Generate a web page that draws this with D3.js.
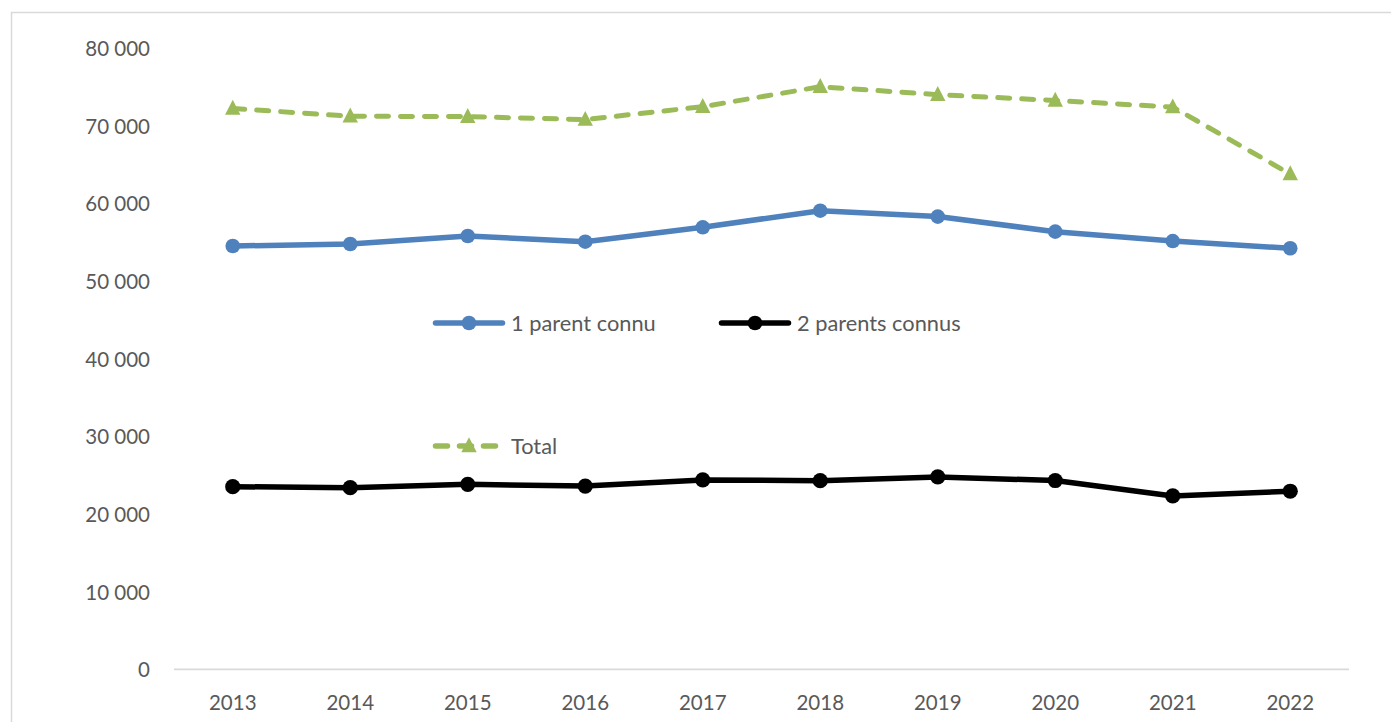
<!DOCTYPE html>
<html>
<head>
<meta charset="utf-8">
<script src="https://cdn.jsdelivr.net/npm/d3@7"></script>
<style>
  html, body { margin: 0; padding: 0; background: #ffffff; overflow: hidden; }
  svg { display: block; }
  text { font-family: Lato, "Open Sans", sans-serif; fill: #595959; }
</style>
</head>
<body>
<svg id="chart" width="1391" height="722"></svg>
<script>
const years = ["2013","2014","2015","2016","2017","2018","2019","2020","2021","2022"];
const oneParent = [54530, 54790, 55820, 55085, 56940, 59080, 58320, 56380, 55170, 54240];
const twoParents = [23525, 23400, 23830, 23610, 24390, 24300, 24780, 24320, 22330, 22940];
const total = [72250, 71250, 71200, 70820, 72480, 75050, 74030, 73280, 72430, 63800];
const yTicks = [0, 10000, 20000, 30000, 40000, 50000, 60000, 70000, 80000];
const seriesNames = ["1 parent connu", "2 parents connus", "Total"];

const svg = d3.select("#chart");
const W = 1391, H = 722;

// chart frame
svg.append("rect")
  .attr("x", 11.5).attr("y", 12.5)
  .attr("width", W + 20).attr("height", H + 20)
  .attr("fill", "none").attr("stroke", "#d9d9d9").attr("stroke-width", 1.5);

const x = d3.scaleBand().domain(years).range([174, 1349]).padding(0);
const y = d3.scaleLinear().domain([0, 80000]).range([669.3, 48.3]);

const loc = d3.formatLocale({decimal: ",", thousands: "\u00a0", grouping: [3], currency: ["", "€"]});
const fmt = loc.format(",d");

// y axis labels (no line)
const yAxis = d3.axisLeft(y).tickValues(yTicks).tickFormat(fmt).tickSize(0).tickPadding(0);
const gy = svg.append("g").attr("transform", "translate(150,0)").call(yAxis);
gy.select(".domain").remove();
gy.selectAll("text").attr("font-size", "20.5px").attr("font-family", "Lato, 'Open Sans', sans-serif")
  .attr("fill", "#595959").attr("dy", "0.36em").attr("x", 0);

// x axis
const xAxis = d3.axisBottom(x).tickSize(0).tickPadding(0);
const gx = svg.append("g").attr("transform", `translate(0,${y(0)})`).call(xAxis);
gx.select(".domain").attr("stroke", "#d9d9d9").attr("stroke-width", 1.8)
  .attr("d", `M${x.range()[0]},0H${x.range()[1]}`);
gx.selectAll("text").attr("font-size", "20.5px").attr("font-family", "Lato, 'Open Sans', sans-serif")
  .attr("fill", "#595959").attr("y", 33).attr("dy", "0.36em");

const cx = d => x(d) + x.bandwidth() / 2;
const line = d3.line().x(d => cx(d[0])).y(d => y(d[1]));
const zip = arr => years.map((yr, i) => [yr, arr[i]]);

const triPath = (s) => `M0,${-s*0.62}L${s*0.55},${s*0.45}L${-s*0.55},${s*0.45}Z`;

// Total (dashed green with triangles)
svg.append("path").datum(zip(total))
  .attr("d", line).attr("fill", "none").attr("stroke", "#9bbb59")
  .attr("stroke-width", 5).attr("stroke-dasharray", "12,12").attr("stroke-linecap", "round")
  .attr("stroke-linejoin", "round");
svg.append("g").selectAll("path").data(zip(total)).join("path")
  .attr("transform", d => `translate(${cx(d[0])},${y(d[1])})`)
  .attr("d", triPath(14)).attr("fill", "#9bbb59");

// 1 parent connu
svg.append("path").datum(zip(oneParent))
  .attr("d", line).attr("fill", "none").attr("stroke", "#4f81bd")
  .attr("stroke-width", 5.5).attr("stroke-linejoin", "round").attr("stroke-linecap", "round");
svg.append("g").selectAll("circle").data(zip(oneParent)).join("circle")
  .attr("cx", d => cx(d[0])).attr("cy", d => y(d[1])).attr("r", 7.3).attr("fill", "#4f81bd");

// 2 parents connus
svg.append("path").datum(zip(twoParents))
  .attr("d", line).attr("fill", "none").attr("stroke", "#000000")
  .attr("stroke-width", 5.5).attr("stroke-linejoin", "round").attr("stroke-linecap", "round");
svg.append("g").selectAll("circle").data(zip(twoParents)).join("circle")
  .attr("cx", d => cx(d[0])).attr("cy", d => y(d[1])).attr("r", 7.6).attr("fill", "#000000");

// Legend
const legendItems = [
  {name: seriesNames[0], color: "#4f81bd", x0: 433, yy: 323, type: "circle", dash: null},
  {name: seriesNames[1], color: "#000000", x0: 719, yy: 323, type: "circle", dash: null},
  {name: seriesNames[2], color: "#9bbb59", x0: 433, yy: 446, type: "tri", dash: "12,12"}
];
const lg = svg.append("g").selectAll("g").data(legendItems).join("g")
  .attr("transform", d => `translate(${d.x0},${d.yy})`);
lg.append("line").attr("x1", 2.5).attr("x2", 69.5).attr("y1", 0).attr("y2", 0)
  .attr("stroke", d => d.color).attr("stroke-width", 5.5).attr("stroke-linecap", "round")
  .attr("stroke-dasharray", d => d.dash);
lg.filter(d => d.type === "circle").append("circle")
  .attr("cx", 36).attr("cy", 0).attr("r", 7.3).attr("fill", d => d.color);
lg.filter(d => d.type === "tri").append("path")
  .attr("transform", "translate(36,0)").attr("d", triPath(14)).attr("fill", d => d.color);
lg.append("text").attr("x", 78).attr("y", 0).attr("dy", "0.36em")
  .attr("font-size", "21.8px").text(d => d.name);
</script>
</body>
</html>
